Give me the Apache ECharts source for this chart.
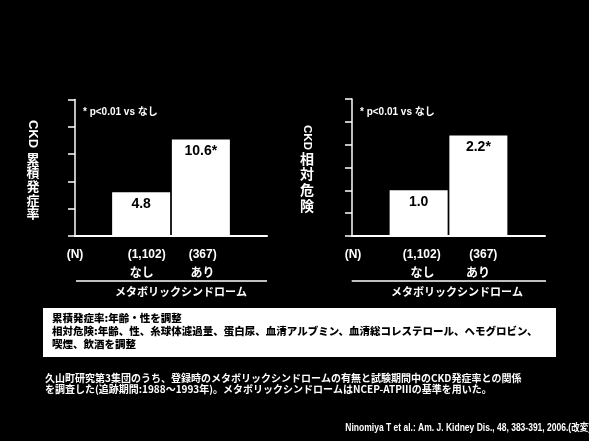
<!DOCTYPE html>
<html>
<head>
<meta charset="utf-8">
<script src="https://cdn.jsdelivr.net/npm/echarts@6/dist/echarts.min.js"></script>
<style>
html,body{margin:0;padding:0;background:#000;}
#chart{width:589px;height:441px;}
</style>
</head>
<body>
<div id="chart"></div>
<script>
// ---- data ----
const groups = ['なし', 'あり'];
const nLabels = ['(1,102)', '(367)'];
const nHeader = '(N)';
const cumIncidence = [4.8, 10.6];     // CKD累積発症率 (%)
const relativeRisk = [1.0, 2.2];      // CKD相対危険
const sigMarks = ['', '*'];
const leftTitle = ['CKD', '累積発症率'];
const rightTitle = ['CKD', '相対危険'];
const pNote = '* p<0.01 vs なし';
const groupTitle = 'メタボリックシンドローム';
const boxLines = [
  '累積発症率:年齢・性を調整',
  '相対危険:年齢、性、糸球体濾過量、蛋白尿、血清アルブミン、血清総コレステロール、ヘモグロビン、',
  '喫煙、飲酒を調整'
];
const noteLines = [
  '久山町研究第3集団のうち、登録時のメタボリックシンドロームの有無と試験期間中のCKD発症率との関係',
  'を調査した(追跡期間:1988～1993年)。メタボリックシンドロームはNCEP-ATPⅢの基準を用いた。'
];
const citation = 'Ninomiya T et al.: Am. J. Kidney Dis., 48, 383-391, 2006.(改変)';
const leftAxis = {min: 0, max: 15, interval: 3};
const rightAxis = {min: 0, max: 3, interval: 0.5};

const JP = '"Noto Sans CJK JP", "Liberation Sans", sans-serif';
const LAT = '"Liberation Sans", Arial, "Noto Sans CJK JP", sans-serif';

const chart = echarts.init(document.getElementById('chart'));

function makeBarSeries(values, gridIdx) {
  return values.map((v, i) => ({
    name: groups[i],
    type: 'bar',
    xAxisIndex: gridIdx,
    yAxisIndex: gridIdx,
    data: [v],
    barWidth: 58,
    barGap: '3%',
    itemStyle: {color: '#ffffff'},
    silent: true,
    label: {
      show: true,
      position: 'insideTop',
      distance: 5,
      color: '#000',
      fontFamily: LAT,
      fontWeight: 'bold',
      fontSize: 14,
      formatter: p => p.value.toFixed(1) + sigMarks[i]
    }
  }));
}

function yAxisCfg(ax, gridIdx) {
  return {
    type: 'value', gridIndex: gridIdx, min: ax.min, max: ax.max, interval: ax.interval,
    axisLine: {show: true, lineStyle: {color: '#fff', width: 1.5}},
    axisTick: {show: true, inside: false, length: 7, lineStyle: {color: '#fff', width: 1.5}},
    axisLabel: {show: false},
    splitLine: {show: false}
  };
}
function xAxisCfg(gridIdx) {
  return {
    type: 'category', gridIndex: gridIdx, data: [groupTitle],
    axisLine: {show: true, lineStyle: {color: '#fff', width: 2}},
    axisTick: {show: false},
    axisLabel: {show: false}
  };
}

function txt(x, y, text, o) {
  o = o || {};
  return {
    type: 'text', x: x, y: y, rotation: o.rot || 0, scaleX: o.sx || 1,
    originX: 0, originY: 0, silent: true,
    style: {
      text: text,
      font: (o.weight || 'bold') + ' ' + (o.size || 12) + 'px ' + (o.family || JP),
      fill: o.color || '#fff',
      textAlign: o.align || 'center', align: o.align || 'center',
      textVerticalAlign: 'middle', verticalAlign: 'middle',
      lineHeight: o.lh
    }
  };
}

const g = [];
// y-axis titles (vertical Japanese: Latin rotated, kanji stacked)
g.push(txt(33, 134, leftTitle[0], {size: 13, family: LAT, rot: -Math.PI / 2}));
g.push(txt(33, 186, leftTitle[1].split('').join('\n'), {size: 13, lh: 13.6}));
g.push(txt(307, 137.5, rightTitle[0], {size: 11.5, family: LAT, rot: -Math.PI / 2}));
g.push(txt(307, 182, rightTitle[1].split('').join('\n'), {size: 14, lh: 15.7}));
// p notes
g.push(txt(83, 112, pNote, {size: 10, align: 'left', family: LAT}));
g.push(txt(360, 112, pNote, {size: 10, align: 'left', family: LAT}));
// N labels and group labels
const panels = [
  {nX: 75, cX: [146.7, 202.7], gX: [141.7, 202.5], lineX: [76, 267], titleX: 181},
  {nX: 353, cX: [421.7, 483.3], gX: [422.5, 478], lineX: [351.7, 546], titleX: 457}
];
panels.forEach(p => {
  g.push(txt(p.nX, 255, nHeader, {size: 12, family: LAT}));
  nLabels.forEach((t, i) => g.push(txt(p.cX[i], 255, t, {size: 12, family: LAT})));
  groups.forEach((t, i) => g.push(txt(p.gX[i], 272, t, {size: 12})));
  g.push({type: 'line', silent: true, shape: {x1: p.lineX[0], y1: 281, x2: p.lineX[1], y2: 281},
          style: {stroke: '#fff', lineWidth: 1.5}});
  g.push(txt(p.titleX, 292, groupTitle, {size: 11}));
});
// white note box
g.push({type: 'rect', silent: true, shape: {x: 43, y: 308, width: 513, height: 49}, style: {fill: '#fff'}});
boxLines.forEach((t, i) => g.push(txt(52, 318.5 + i * 13, t, {size: 10.5, align: 'left', color: '#000', weight: '900'})));
// notes
noteLines.forEach((t, i) => g.push(txt(45, 378.5 + i * 11, t, {size: 10, align: 'left'})));
g.push(txt(591, 428.5, citation, {size: 10, align: 'right', family: LAT, sx: 0.85}));

chart.setOption({
  backgroundColor: '#000',
  animation: false,
  grid: [
    {left: 75, right: 322, top: 99.5, bottom: 205, containLabel: false},
    {left: 352, right: 44, top: 99, bottom: 205, containLabel: false}
  ],
  xAxis: [xAxisCfg(0), xAxisCfg(1)],
  yAxis: [yAxisCfg(leftAxis, 0), yAxisCfg(rightAxis, 1)],
  series: [...makeBarSeries(cumIncidence, 0), ...makeBarSeries(relativeRisk, 1)],
  graphic: g
});
</script>
</body>
</html>
